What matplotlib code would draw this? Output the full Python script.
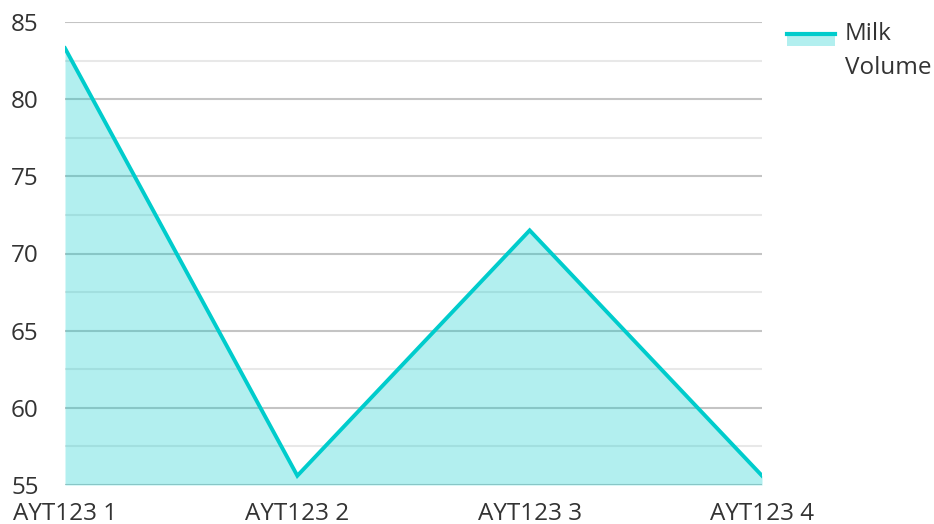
import numpy as np
import matplotlib.pyplot as plt
from matplotlib.lines import Line2D
from matplotlib.patches import Rectangle

plt.rcParams['font.family'] = ['Open Sans', 'DejaVu Sans']

categories = ['AYT123 1', 'AYT123 2', 'AYT123 3', 'AYT123 4']
milk_volume = [83.3, 55.6, 71.5, 55.6]
series_name = 'Milk\nVolume'

line_color = '#00cccc'
text_color = '#333333'
fs = 17.5

fig = plt.figure(figsize=(9.34, 5.24), dpi=100)
ax = fig.add_axes([65/934, 39/524, 697/934, 463/524])

x = np.arange(len(categories))
ax.fill_between(x, 55, milk_volume, color=line_color, alpha=0.3, lw=0, zorder=3)
ax.plot(x, milk_volume, color=line_color, lw=2.8, zorder=4, solid_joinstyle='miter')

ax.set_xlim(0, len(categories) - 1)
ax.set_ylim(55, 85)
ax.set_yticks(np.arange(55, 86, 5))
ax.set_yticks(np.arange(57.5, 85, 5), minor=True)
ax.grid(which='major', axis='y', color='#c4c4c4', lw=1.5, zorder=1)
ax.grid(which='minor', axis='y', color='#e8e8e8', lw=1.5, zorder=1)
for s in ax.spines.values():
    s.set_visible(False)
ax.tick_params(axis='both', which='both', length=0, labelsize=fs, colors=text_color)
ax.tick_params(axis='y', pad=19)
ax.tick_params(axis='x', pad=12)
ax.set_xticks(x)
ax.set_xticklabels(categories)

# legend
fig.add_artist(Rectangle((787/934, (524-46)/524), 48/934, 13/524, transform=fig.transFigure,
                         color=line_color, alpha=0.3, lw=0))
fig.add_artist(Line2D([787/934, 835/934], [(524-34)/524] * 2, transform=fig.transFigure,
                      color=line_color, lw=3))
fig.text(845/934, (524-51)/524, series_name, fontsize=fs, color=text_color, va='center',
         linespacing=1.5)

fig.savefig('out.png', dpi=100)
